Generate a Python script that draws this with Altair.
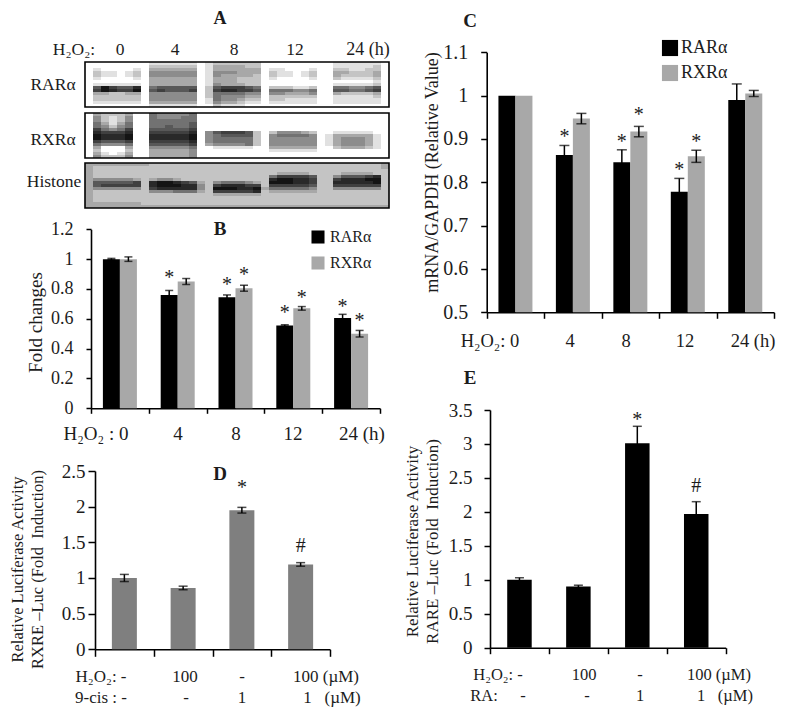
import altair as alt
import pandas as pd

FONT = "Liberation Serif"
INK = "#1c1c1c"
TIMES = ["0", "4", "8", "12", "24"]
DOSES = ["a", "b", "c", "d"]

# Panel B
b_rar = [1.0, 0.76, 0.745, 0.555, 0.605]
b_rar_err = [0.005, 0.03, 0.015, 0.005, 0.025]
b_rxr = [1.0, 0.85, 0.805, 0.67, 0.50]
b_rxr_err = [0.015, 0.02, 0.02, 0.012, 0.022]
b_rar_star = [None, 0.893, 0.85, 0.659, 0.703]
b_rxr_star = [None, None, 0.916, 0.759, 0.607]
# Panel C
c_rar = [1.0, 0.863, 0.846, 0.778, 0.99]
c_rar_err = [0.0, 0.022, 0.029, 0.031, 0.037]
c_rxr = [1.0, 0.947, 0.917, 0.86, 1.005]
c_rxr_err = [0.0, 0.012, 0.012, 0.014, 0.007]
c_rar_star = [None, 0.913, 0.902, 0.836, None]
c_rxr_star = [None, None, 0.963, 0.902, None]
# Panel D
d_val = [1.0, 0.86, 1.95, 1.19]
d_err = [0.05, 0.025, 0.04, 0.025]
# Panel E
e_val = [1.0, 0.9, 3.01, 1.97]
e_err = [0.03, 0.02, 0.25, 0.18]

# Panel A: blot darkness, 0 = white .. 9 = black, one string per row of the strip
blot_rar = [
    "0 000000 0 111111 01 222222 0 000000 00 111111 0",
    "0 000000 0 222222 01 333322 0 000000 00 111112 0",
    "0 100001 0 333333 01 333333 0 110001 00 221122 0",
    "0 211012 0 444444 01 444333 0 211012 00 332223 0",
    "0 211012 0 444444 01 433332 0 211012 00 322223 0",
    "0 100001 0 333333 01 333222 0 100001 00 211112 0",
    "0 000000 0 333333 01 333222 0 000000 00 000001 0",
    "0 111111 0 333333 01 433322 0 000000 00 111112 0",
    "0 697668 0 566666 02 677765 0 222112 00 554456 0",
    "0 798779 0 676667 02 788776 0 555445 00 665567 0",
    "0 332233 0 444444 02 555544 0 443334 00 322223 0",
    "0 222222 0 444444 02 544433 0 222222 00 111112 0",
    "0 222222 0 444444 01 544322 0 221111 00 111111 0",
    "0 111111 0 333333 01 433211 0 111111 00 111111 0",
    "0 000000 0 111111 00 211100 0 000000 00 000000 0",
]
blot_rxr = [
    "0 322230 0 544445 00 000000 0 000000 00 000000 0",
    "0 421240 0 544455 00 000000 0 000000 00 000000 0",
    "0 421240 0 555555 00 000000 0 000000 00 000000 0",
    "0 531350 0 555556 00 000000 0 000000 00 000000 0",
    "0 542450 0 556556 00 000000 0 000000 00 000000 0",
    "0 754570 0 666667 00 000000 0 000000 00 000000 0",
    "0 877780 0 777778 04 677762 0 244432 00 111110 0",
    "0 988890 0 888889 04 566662 0 455554 01 333331 0",
    "0 988890 0 888889 04 555552 0 444444 01 344431 0",
    "0 766670 0 777778 04 555552 0 444444 01 344431 0",
    "0 544450 0 666667 03 444452 0 444444 01 344431 0",
    "0 300030 0 444445 00 111110 0 333333 00 233321 0",
    "0 200020 0 333334 00 000000 0 111111 00 000000 0",
    "0 310130 0 333334 00 000000 0 000000 00 000000 0",
    "0 422240 0 333334 00 000000 0 000000 00 000000 0",
]
blot_his = [
    "3 333333 3 222222 22 222222 2 222222 22 222222 3",
    "3 222222 2 222222 22 222222 2 222222 22 222222 3",
    "3 222222 2 222222 22 222222 2 222222 22 222222 2",
    "3 222222 2 222222 22 222222 2 233332 22 233332 2",
    "3 222222 2 222222 22 222222 2 577776 22 466678 2",
    "3 444443 2 344322 22 222222 2 899887 22 788899 2",
    "3 666667 2 899876 32 455543 2 999887 22 888889 2",
    "3 677777 2 899988 42 788877 2 777776 22 777777 2",
    "3 444444 2 788888 42 999889 3 555554 22 444444 2",
    "3 222222 2 444555 32 777778 2 333333 22 222222 2",
    "3 222222 2 222222 22 333333 2 222222 22 222222 2",
    "3 222222 2 222222 22 222222 2 222222 22 222222 2",
    "3 222222 2 222222 22 222222 2 222222 22 222222 2",
    "3 333333 2 222222 22 222222 2 222222 22 222222 2",
    "3 333333 3 333333 33 333333 3 333333 33 333333 3",
]

layers = []


def note(text, x, y, size=15, align="center", angle=0, weight="normal", baseline="middle"):
    layers.append(
        alt.Chart(pd.DataFrame({"t": [text]}))
        .mark_text(font=FONT, fontSize=size, color=INK, align=align, baseline=baseline,
                   angle=angle, fontWeight=weight)
        .encode(x=alt.value(x - 8), y=alt.value(y - 8), text="t:N")
    )


def strip(rows, top):
    recs = []
    for r, row in enumerate(rows):
        for c, ch in enumerate(row.replace(" ", "")):
            recs.append({"c": c, "r": r, "d": int(ch)})
    xs = alt.Scale(type="band", domain=list(range(38)), range=[77, 381], paddingInner=0, paddingOuter=0)
    ys = alt.Scale(type="band", domain=list(range(15)), range=[top, top + 45], paddingInner=0, paddingOuter=0)
    layers.append(
        alt.Chart(pd.DataFrame(recs)).mark_rect().encode(
            x=alt.X("c:O", scale=xs, axis=None),
            y=alt.Y("r:O", scale=ys, axis=None),
            color=alt.Color("d:Q", legend=None,
                            scale=alt.Scale(domain=[0, 9], range=["#ffffff", "#141414"])),
        )
    )
    frame = pd.DataFrame({"x": [0], "x2": [38], "y": [0], "y2": [15]})
    layers.append(
        alt.Chart(frame).mark_rect(fill=None, stroke="#000000", strokeWidth=1.6).encode(
            x=alt.X("x:Q", scale=alt.Scale(domain=[0, 38], range=[77, 381]), axis=None),
            x2="x2:Q",
            y=alt.Y("y:Q", scale=alt.Scale(domain=[0, 15], range=[top, top + 45]), axis=None),
            y2="y2:Q",
        )
    )


def panel(cats, series, x0, x1, y0, y1, domain, ticks, bar_w, cap, tick_size, pad, label_size,
          title, title_x, title_y, title_size, legend=None):
    """series: list of (name, colour, values, errors, star heights, x shift)"""
    X0, X1, Y0, Y1 = x0 - 8, x1 - 8, y0 - 8, y1 - 8
    xs = alt.Scale(type="band", domain=cats, range=[X0, X1], paddingInner=0, paddingOuter=0)
    ys = alt.Scale(domain=domain, range=[Y0, Y1], zero=False, nice=False)
    for k, (name, colour, vals, errs, stars, shift) in enumerate(series):
        df = pd.DataFrame({"cat": cats, "v": vals, "base": [domain[0]] * len(cats),
                           "lo": [v - e for v, e in zip(vals, errs)],
                           "hi": [v + e for v, e in zip(vals, errs)],
                           "name": [name] * len(cats)})
        if k == 0:
            xa = alt.Axis(orient="bottom", offset=Y0 - 700, labels=False, title=None, grid=False,
                          tickBand="extent", tickSize=tick_size, tickWidth=1.5, tickColor="#000000",
                          domainWidth=1.6, domainColor="#000000")
            ya = alt.Axis(orient="left", offset=-X0, values=ticks, grid=False, tickSize=tick_size,
                          tickWidth=1.5, tickColor="#000000", domainWidth=1.6, domainColor="#000000",
                          labelExpr="'' + datum.value", labelFont=FONT, labelFontSize=label_size,
                          labelColor=INK, labelPadding=pad, title=title, titleFont=FONT,
                          titleFontSize=title_size, titleFontWeight="normal", titleColor=INK,
                          titleX=title_x - x0, titleY=title_y - 8, titleAngle=270,
                          titleAlign="center", titleBaseline="middle",
                          titleLineHeight=title_size + 3.5)
        else:
            xa, ya = None, None
        if legend and k == 0:
            col = alt.Color("name:N", scale=alt.Scale(domain=[s[0] for s in series],
                                                      range=[s[1] for s in series]),
                            legend=alt.Legend(orient="none", legendX=legend[0] - 8, legendY=legend[1] - 8,
                                              title=None, symbolType="square", symbolSize=legend[2],
                                              symbolStrokeWidth=0, labelFont=FONT, labelFontSize=legend[3],
                                              labelColor=INK, rowPadding=legend[4], labelOffset=legend[5],
                                              padding=0))
        else:
            col = alt.Color("name:N", legend=None,
                            scale=alt.Scale(domain=[s[0] for s in series], range=[s[1] for s in series]))
        layers.append(
            alt.Chart(df).mark_bar(size=bar_w, xOffset=shift).encode(
                x=alt.X("cat:N", scale=xs, axis=xa, sort=None),
                y=alt.Y("v:Q", scale=ys, axis=ya),
                y2="base:Q",
                color=col,
            )
        )
        e = df[[x > 0 for x in errs]]
        layers.append(
            alt.Chart(e).mark_rule(xOffset=shift, color="#000000", strokeWidth=1.5).encode(
                x=alt.X("cat:N", scale=xs, axis=None, sort=None),
                y=alt.Y("lo:Q", scale=ys, axis=None),
                y2="hi:Q",
            )
        )
        for fld in ("lo", "hi"):
            layers.append(
                alt.Chart(e).mark_tick(xOffset=shift, color="#000000", size=cap, thickness=1.5,
                                       orient="horizontal").encode(
                    x=alt.X("cat:N", scale=xs, axis=None, sort=None),
                    y=alt.Y(f"{fld}:Q", scale=ys, axis=None),
                )
            )
        for symbol, heights in stars:
            sd = pd.DataFrame({"cat": cats, "h": heights, "s": [symbol] * len(cats)}).dropna()
            layers.append(
                alt.Chart(sd).mark_text(font=FONT, fontSize=20, color=INK, dx=shift,
                                        dy=9.4 if symbol == "*" else 6.5, baseline="alphabetic").encode(
                    x=alt.X("cat:N", scale=xs, axis=None, sort=None),
                    y=alt.Y("h:Q", scale=ys, axis=None),
                    text="s:N",
                )
            )


# ---- Panel A
strip(blot_rar, 54)
strip(blot_rxr, 105)
strip(blot_his, 155)
note("A", 220, 19, 18, weight="bold")
note("H₂O₂:", 74, 50, 17.5)
for t, x in [("0", 120), ("4", 175), ("8", 234), ("12", 295)]:
    note(t, x, 50, 17.5)
note("24 (h)", 368, 50, 18)
note("RARα", 53, 85, 17.5)
note("RXRα", 53, 140, 17.5)
note("Histone", 54, 182, 17.5)

# ---- Panel B
panel(TIMES,
      [("RARα", "#000000", b_rar, b_rar_err, [("*", b_rar_star)], -8.5),
       ("RXRα", "#a8a8a8", b_rxr, b_rxr_err, [("*", b_rxr_star)], 8.5)],
      91, 380, 408.3, 229.3, [0, 1.2], [0, 0.2, 0.4, 0.6, 0.8, 1, 1.2], 17, 8, 5, 13, 18,
      "Fold changes", 35, 322, 19, legend=(310, 229, 170, 16, 10, 4))
note("B", 220, 229, 19, weight="bold")
note("H₂O₂ : 0", 96, 434, 19)
for t, x in [("4", 178), ("8", 236), ("12", 293), ("24 (h)", 362)]:
    note(t, x, 434, 19)

# ---- Panel C
panel(TIMES,
      [("RARα", "#000000", c_rar, c_rar_err, [("*", c_rar_star)], -8.5),
       ("RXRα", "#a8a8a8", c_rxr, c_rxr_err, [("*", c_rxr_star)], 8.5)],
      486.7, 774, 312.3, 52.3, [0.5, 1.1], [0.5, 0.6, 0.7, 0.8, 0.9, 1, 1.1], 17, 10, 6, 13, 20,
      "mRNA/GAPDH (Relative Value)", 432, 172, 18, legend=(661, 39, 260, 18, 7, 2))
note("C", 470, 21, 19, weight="bold")
note("H₂O₂: 0", 490, 341, 18.5)
for t, x in [("4", 570), ("8", 626), ("12", 685), ("24 (h)", 753)]:
    note(t, x, 341, 18.5)

# ---- Panel D
panel(DOSES,
      [("RXRE", "#7f7f7f", d_val, d_err,
        [("*", [None, None, 2.31, None]), ("#", [None, None, None, 1.46])], 0)],
      95, 330, 649.3, 471, [0, 2.5], [0, 0.5, 1, 1.5, 2, 2.5], 25, 9, 7, 3, 19,
      ["Relative Luciferase Activity", "RXRE –Luc (Fold\u00a0\u00a0Induction)"], 17, 569, 16.5)
note("D", 220, 474, 19, weight="bold")
for row, y in [([("H₂O₂: -", 101), ("100", 185), ("-", 242), ("100 (µM)", 326)], 677),
               ([("9-cis : -", 101), ("-", 186), ("1", 242), ("1\u00a0\u00a0\u00a0(µM)", 332)], 698)]:
    for t, x in row:
        note(t, x, y, 17)

# ---- Panel E
panel(DOSES,
      [("RARE", "#000000", e_val, e_err,
        [("*", [None, None, 3.40, None]), ("#", [None, None, None, 2.39])], 0)],
      490, 725.7, 647.7, 410, [0, 3.5], [0, 0.5, 1, 1.5, 2, 2.5, 3, 3.5], 24.5, 9, 6, 12, 19,
      ["Relative Luciferase Activity", "RARE –Luc (Fold\u00a0\u00a0Induction)"], 412, 541, 17)
note("E", 470, 378, 19, weight="bold")
for row, y in [([("H₂O₂: -", 498), ("100", 584), ("-", 640), ("100 (µM)", 719)], 675),
               ([("RA:", 484), ("-", 523), ("-", 587), ("1", 640), ("1\u00a0\u00a0\u00a0(µM)", 725)], 696)]:
    for t, x in row:
        note(t, x, y, 16.5)

chart = (
    alt.layer(*layers)
    .resolve_scale(x="independent", y="independent", color="independent")
    .resolve_axis(x="independent", y="independent")
    .properties(width=769, height=700, padding=0,
                autosize=alt.AutoSizeParams(type="none"), background="white")
    .configure_view(stroke=None)
)
chart.save("out.html", embed_options={"renderer": "svg", "actions": False})
